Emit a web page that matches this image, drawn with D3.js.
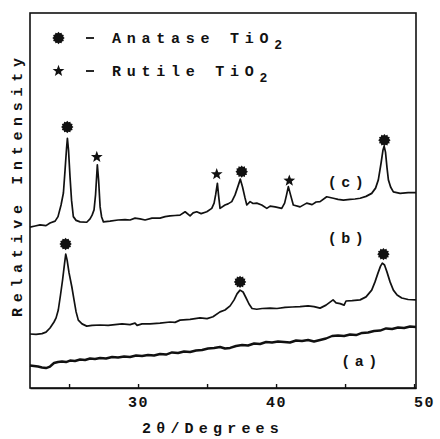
<!DOCTYPE html>
<html>
<head>
<meta charset="utf-8">
<script src="https://cdn.jsdelivr.net/npm/d3@7"></script>
<style>
  html, body { margin: 0; padding: 0; background: #fff; }
  svg { display: block; }
  text { font-family: "Liberation Mono", "DejaVu Sans Mono", monospace; font-weight: bold; fill: #111; }
</style>
</head>
<body>
<svg id="chart" width="440" height="439"></svg>
<script>
// XRD patterns, 2θ in degrees vs relative intensity (arbitrary units, stacked traces)
const xTicks = [25, 30, 35, 40, 45, 50];
const xTickLabels = { 30: "30", 40: "40", 50: "50" };

// (a) amorphous sample
const aTheta = [22.17,22.46,22.75,23.04,23.33,23.62,23.91,24.20,24.49,24.78,25.07,25.43,25.80,26.16,26.52,26.88,27.25,27.68,28.12,28.55,28.99,29.42,29.86,30.29,30.72,31.16,31.59,32.03,32.46,32.90,33.33,33.77,34.20,34.64,35.07,35.51,35.94,36.30,36.67,37.10,37.54,37.97,38.41,38.84,39.28,39.71,40.14,40.58,41.01,41.45,41.88,42.32,42.75,43.19,43.62,44.06,44.49,44.93,45.36,45.80,46.23,46.67,47.10,47.54,47.97,48.41,48.84,49.28,49.71,50.14];
const aIntensity = [6.0,5.87,5.73,5.47,5.33,5.73,6.67,6.93,7.07,6.93,7.33,7.2,7.6,7.47,7.87,7.73,8.0,7.87,8.27,8.13,8.4,8.27,8.67,8.53,8.8,8.67,9.07,8.93,9.47,9.33,9.73,9.6,10.0,10.13,10.53,10.67,10.93,10.53,10.67,11.2,11.47,11.33,11.87,11.73,12.27,12.13,12.4,12.27,12.13,12.67,12.53,12.8,12.4,12.8,13.2,13.87,14.0,13.87,14.27,14.13,14.67,14.8,15.2,15.33,15.87,15.73,16.13,16.0,16.4,16.27];

// (b) anatase only
const bTheta = [22.17,22.61,23.04,23.33,23.62,23.91,24.06,24.22,24.38,24.53,24.67,24.76,24.86,25.00,25.20,25.36,25.51,25.67,25.94,26.28,26.67,27.25,27.83,28.33,28.84,29.42,29.78,29.93,30.29,30.87,31.59,32.32,32.68,33.04,33.77,34.49,35.00,35.43,35.94,36.30,36.67,36.96,37.17,37.39,37.61,37.83,38.04,38.26,38.60,38.99,39.57,40.07,40.65,41.16,41.74,42.32,42.75,43.19,43.62,44.13,44.35,44.64,44.93,45.07,45.51,46.09,46.52,46.93,47.17,47.39,47.57,47.70,47.86,48.04,48.26,48.50,48.77,49.11,49.57,50.14];
const bIntensity = [14.4,14.3,14.5,14.9,16.0,17.6,18.7,20.8,24.8,28.8,33.1,35.7,34.1,30.7,27.0,23.5,20.3,18.1,17.1,16.5,16.7,16.8,16.7,16.9,17.1,16.9,17.3,16.7,17.1,17.1,17.3,17.6,17.5,18.1,18.3,18.7,18.5,19.0,20.3,20.8,21.9,23.5,25.1,26.1,25.6,24.0,22.4,21.2,21.0,21.2,21.3,21.2,21.5,21.6,21.7,21.9,21.7,21.3,22.1,23.5,22.7,22.5,22.1,23.2,23.3,23.5,24.3,26.1,28.3,30.7,32.5,33.3,32.8,30.9,28.3,26.1,24.8,24.0,23.6,23.5];

// (c) anatase + rutile mixture
const cTheta = [22.17,22.54,22.90,23.33,23.62,23.99,24.20,24.42,24.59,24.71,24.82,24.88,24.96,25.07,25.18,25.31,25.51,25.80,26.28,26.52,26.67,26.81,26.92,27.05,27.14,27.25,27.36,27.49,27.97,28.55,29.06,29.42,29.78,30.14,30.51,31.01,31.59,31.96,32.32,32.68,33.04,33.41,33.77,33.99,34.25,34.57,34.98,35.34,35.51,35.62,35.75,35.83,35.94,36.30,36.52,36.79,37.03,37.25,37.41,37.57,37.75,37.88,38.12,38.33,38.60,38.96,39.33,39.57,39.93,40.41,40.62,40.76,40.89,41.05,41.25,41.74,42.22,42.61,42.90,43.19,43.67,44.15,44.49,44.88,45.36,45.72,46.09,46.52,46.93,47.21,47.41,47.61,47.75,47.83,47.93,48.04,48.14,48.30,48.50,48.99,49.57,50.14];
const cIntensity = [42.9,43.2,43.5,43.3,44.0,44.5,45.7,48.8,52.0,58.1,64.0,66.6,63.5,56.3,50.1,45.7,44.7,44.3,44.2,45.1,46.1,47.5,51.5,59.5,55.5,48.3,45.6,44.3,44.5,44.8,44.9,44.8,45.3,45.1,44.8,45.3,45.3,45.7,45.9,46.0,46.1,47.0,45.9,46.7,47.0,46.5,47.0,47.9,49.3,51.5,54.6,51.5,47.9,48.8,49.1,49.7,51.5,53.9,55.7,53.6,50.7,48.8,49.7,49.2,49.3,48.8,47.9,48.5,48.3,47.9,49.3,51.5,53.7,51.5,48.8,48.3,49.3,48.9,49.6,49.7,51.0,50.6,50.3,50.1,50.3,50.4,50.6,51.1,51.9,53.3,55.5,60.0,63.5,64.5,62.9,58.7,55.5,53.6,52.3,51.9,52.1,52.1];

// Phase markers placed above the reflections
const anataseMarkTheta = [24.87, 37.51, 47.85, 24.75, 37.39, 47.78];
const anataseMarkIntensity = [69.6, 57.7, 66.1, 38.4, 28.3, 35.7];
const rutileMarkTheta = [27.01, 35.70, 40.96];
const rutileMarkIntensity = [61.6, 57.0, 55.3];

const traceLabels = ["(a)", "(b)", "(c)"];
const legendLabels = ["Anatase", "Rutile"];

const svg = d3.select("#chart");
const plotLeft = 30, plotRight = 416, plotTop = 13, plotBottom = 388;

const x = d3.scaleLinear().domain([22.17, 50.14]).range([plotLeft, plotRight]);
const y = d3.scaleLinear().domain([0, 100]).range([plotBottom, plotTop]);

// frame
svg.append("rect")
  .attr("x", plotLeft).attr("y", plotTop)
  .attr("width", plotRight - plotLeft).attr("height", plotBottom - plotTop)
  .attr("fill", "none").attr("stroke", "#111").attr("stroke-width", 1.6);

// bottom axis with inward ticks
const xAxis = d3.axisBottom(x)
  .tickValues(xTicks)
  .tickSizeInner(-4)
  .tickSizeOuter(0)
  .tickPadding(8)
  .tickFormat(d => xTickLabels[d] || "");
const gx = svg.append("g").attr("transform", `translate(0,${plotBottom})`).call(xAxis);
gx.select(".domain").attr("stroke", "#111").attr("stroke-width", 1.6);
gx.selectAll(".tick line").attr("stroke", "#111").attr("stroke-width", 1.4);
gx.selectAll(".tick text")
  .attr("font-family", "Liberation Mono")
  .attr("font-weight", "bold")
  .attr("font-size", 15)
  .attr("letter-spacing", 1.5)
  .attr("fill", "#111")
  .attr("dx", d => d === 50 ? 10 : 0);

// axis titles
svg.append("text")
  .attr("x", 142).attr("y", 433)
  .attr("font-size", 15).attr("letter-spacing", 5.2)
  .text("2θ/Degrees");
svg.append("text")
  .attr("transform", "translate(22,317) rotate(-90)")
  .attr("font-size", 15).attr("letter-spacing", 5.7)
  .text("Relative Intensity");

// traces
const line = d3.line().x(d => x(d[0])).y(d => y(d[1]));
const traces = [
  { th: aTheta, v: aIntensity, w: 2.4 },
  { th: bTheta, v: bIntensity, w: 1.7 },
  { th: cTheta, v: cIntensity, w: 1.7 }
];
svg.append("g").selectAll("path")
  .data(traces)
  .join("path")
  .attr("d", t => line(d3.zip(t.th, t.v)))
  .attr("fill", "none")
  .attr("stroke", "#111")
  .attr("stroke-width", t => t.w)
  .attr("stroke-linejoin", "round");

// symbol shapes
function starPath(points, rOut, rIn) {
  const pts = [];
  for (let i = 0; i < points * 2; i++) {
    const r = i % 2 === 0 ? rOut : rIn;
    const a = -Math.PI / 2 + i * Math.PI / points;
    pts.push([r * Math.cos(a), r * Math.sin(a)]);
  }
  return "M" + pts.map(p => p.join(",")).join("L") + "Z";
}
const anatasePath = starPath(12, 6.2, 4.9);
const rutilePath = starPath(5, 6.2, 2.6);

svg.append("g").selectAll("path")
  .data(d3.zip(anataseMarkTheta, anataseMarkIntensity))
  .join("path")
  .attr("d", anatasePath)
  .attr("transform", d => `translate(${x(d[0])},${y(d[1])})`)
  .attr("fill", "#111");
svg.append("g").selectAll("path")
  .data(d3.zip(rutileMarkTheta, rutileMarkIntensity))
  .join("path")
  .attr("d", rutilePath)
  .attr("transform", d => `translate(${x(d[0])},${y(d[1])})`)
  .attr("fill", "#111");

// trace labels
const labelPos = [[361.5, 366], [348, 243], [348, 187]];
svg.append("g").selectAll("text")
  .data(traceLabels)
  .join("text")
  .attr("x", (d, i) => labelPos[i][0])
  .attr("y", (d, i) => labelPos[i][1])
  .attr("text-anchor", "middle")
  .attr("font-size", 15)
  .attr("letter-spacing", 4.5)
  .text(d => d);

// legend
const legendRows = [
  { shape: anatasePath, y: 38, name: legendLabels[0] },
  { shape: rutilePath, y: 71, name: legendLabels[1] }
];
legendRows.forEach(r => {
  svg.append("path").attr("d", r.shape)
    .attr("transform", `translate(58.5,${r.y})`).attr("fill", "#111");
  svg.append("line")
    .attr("x1", 86).attr("x2", 94).attr("y1", r.y).attr("y2", r.y)
    .attr("stroke", "#111").attr("stroke-width", 1.8);
  const t = svg.append("text")
    .attr("x", 112).attr("y", r.y + 4.5)
    .attr("font-size", 15).attr("letter-spacing", 5.75);
  t.append("tspan").text(r.name + " TiO");
  t.append("tspan").attr("dy", 6.5).attr("font-size", 13).text("2");
});
</script>
</body>
</html>
